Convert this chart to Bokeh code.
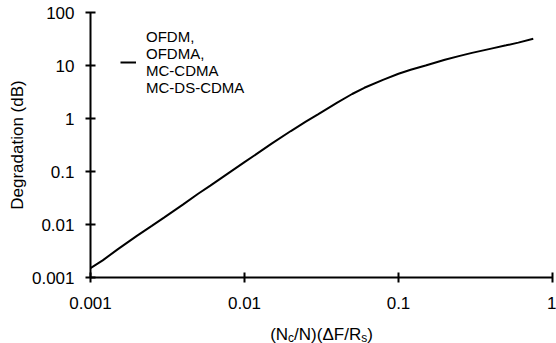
from bokeh.plotting import figure
from bokeh.models import Range1d, FixedTicker, Legend, LegendItem, ColumnDataSource
from bokeh.layouts import column
from bokeh.core.properties import value
from bokeh.embed import file_html
from bokeh.resources import INLINE

# ---- data ----
norm_offset = [0.001, 0.0012, 0.0015, 0.002, 0.0025, 0.003, 0.004, 0.005, 0.006, 0.008,
               0.01, 0.012, 0.015, 0.02, 0.025, 0.03, 0.04, 0.05, 0.06, 0.08,
               0.1, 0.12, 0.15, 0.2, 0.25, 0.3, 0.4, 0.5, 0.6, 0.75]
degradation_db = [0.0015, 0.0021, 0.0034, 0.0061, 0.0094, 0.0135, 0.024, 0.038, 0.054, 0.096,
                  0.15, 0.215, 0.335, 0.58, 0.87, 1.2, 2.0, 2.9, 3.8, 5.4,
                  7.0, 8.3, 10.0, 12.8, 15.2, 17.3, 20.8, 24.0, 27.0, 32.0]
x_ticks = [0.001, 0.01, 0.1, 1]
x_tick_labels = ["0.001", "0.01", "0.1", "1"]
y_ticks = [0.001, 0.01, 0.1, 1, 10, 100]
y_tick_labels = ["0.001", "0.01", "0.1", "1", "10", "100"]
series_label = "OFDM,\nOFDMA,\nMC-CDMA\nMC-DS-CDMA"
y_title = "Degradation (dB)"
# x title (N_c/N)(ΔF/R_s): (text, is_subscript)
x_title_parts = [("(N", False), ("c", True), ("/N)(\u0394F/R", False), ("s", True), (")", False)]

FONT = "Liberation Sans"
TICK_FS = 17
TITLE_FS = 17
SUB_FS = 12

W, H = 556, 343
TITLE_H = 23
FRAME_L, FRAME_R, FRAME_T, FRAME_B = 90, 552, 12, 277

p = figure(width=W, height=H - TITLE_H, x_axis_type="log", y_axis_type="log",
           x_range=Range1d(0.001, 1), y_range=Range1d(0.001, 100),
           output_backend="svg", toolbar_location=None,
           min_border_left=FRAME_L, min_border_right=W - FRAME_R, min_border_top=FRAME_T,
           min_border_bottom=H - TITLE_H - FRAME_B)
p.outline_line_color = None
p.xgrid.visible = False
p.ygrid.visible = False
p.background_fill_color = "white"
p.border_fill_color = "white"

for ax, ticks, labels in ((p.xaxis[0], x_ticks, x_tick_labels), (p.yaxis[0], y_ticks, y_tick_labels)):
    ax.ticker = FixedTicker(ticks=ticks)
    ax.major_label_overrides = {t: l for t, l in zip(ticks, labels)}
    ax.axis_line_width = 2
    ax.axis_line_color = "black"
    ax.major_tick_line_width = 2
    ax.major_tick_line_color = "black"
    ax.major_tick_in = 5
    ax.major_tick_out = 5
    ax.minor_tick_line_color = None
    ax.major_label_text_font = FONT
    ax.major_label_text_font_size = f"{TICK_FS}px"
    ax.major_label_text_color = "black"

p.xaxis.major_label_standoff = 14
p.yaxis.major_label_standoff = 11
p.yaxis.axis_label = y_title
p.yaxis.axis_label_text_font = FONT
p.yaxis.axis_label_text_font_size = f"{TITLE_FS}px"
p.yaxis.axis_label_text_font_style = "normal"
p.yaxis.axis_label_text_color = "black"
p.yaxis.axis_label_standoff = 2

r = p.line(norm_offset, degradation_db, line_color="black", line_width=2)

legend = Legend(items=[LegendItem(label=series_label, renderers=[r])],
                location=(30, 181), padding=0, margin=0, spacing=0,
                border_line_alpha=0, background_fill_alpha=0,
                glyph_width=16, glyph_height=68, label_standoff=10,
                label_text_font=FONT, label_text_font_size="15px",
                label_text_line_height=1.13, label_text_color="black")
p.add_layout(legend)

# ---- strip below holding the x-axis title with subscripts ----
# (its frame is aligned with the main frame by the column layout)
t = figure(width=W, height=TITLE_H, x_range=Range1d(FRAME_L, FRAME_R), y_range=Range1d(0, TITLE_H),
           output_backend="svg", toolbar_location=None,
           x_axis_location=None, y_axis_location=None,
           min_border_left=FRAME_L, min_border_right=W - FRAME_R, min_border_top=0, min_border_bottom=0)
t.outline_line_color = None
t.xgrid.visible = False
t.ygrid.visible = False

em = {"(N": 1.055, "c": 0.5, "/N)(\u0394F/R": 3.945, "s": 0.5, ")": 0.333}
widths = [em[s] * (SUB_FS if sub else TITLE_FS) for s, sub in x_title_parts]
center_x = (FRAME_L + FRAME_R) / 2
x0 = center_x - sum(widths) / 2
main = dict(x=[], y=[], text=[])
subs = dict(x=[], y=[], text=[])
cur = x0
base = H - 334
for (s, sub), w in zip(x_title_parts, widths):
    d = subs if sub else main
    d["x"].append(cur)
    d["y"].append(base - 3 if sub else base)
    d["text"].append(s)
    cur += w
t.text(x="x", y="y", text="text", source=ColumnDataSource(main),
       text_font=value(FONT), text_font_size=value(f"{TITLE_FS}px"),
       text_color="black", text_align="left", text_baseline="alphabetic")
t.text(x="x", y="y", text="text", source=ColumnDataSource(subs),
       text_font=value(FONT), text_font_size=value(f"{SUB_FS}px"),
       text_color="black", text_align="left", text_baseline="alphabetic")

layout = column(p, t, spacing=0)
open("out.html", "w").write(file_html(layout, INLINE))
